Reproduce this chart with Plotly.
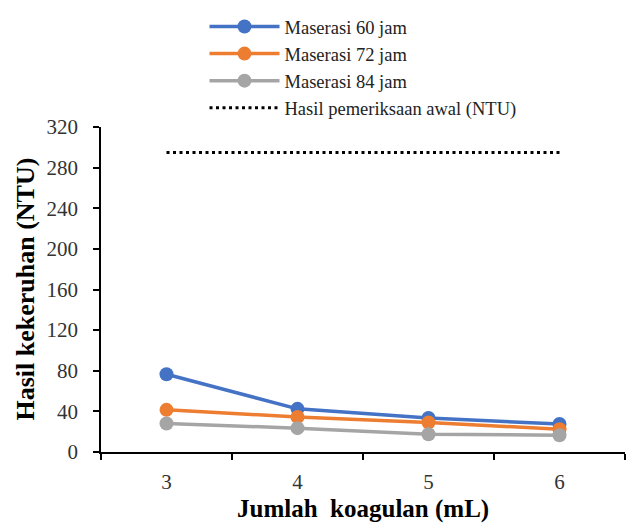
import plotly.graph_objects as go

categories = ["3", "4", "5", "6"]
maserasi_60 = [76.5, 42.5, 33.5, 27.5]
maserasi_72 = [41.5, 34.5, 29, 22.5]
maserasi_84 = [28, 23.5, 17.5, 16.5]
awal = [295, 295, 295, 295]
y_ticks = [0, 40, 80, 120, 160, 200, 240, 280, 320]

FONT = "'Liberation Serif', 'Times New Roman', serif"

fig = go.Figure()
series = [
    ("Maserasi 60 jam", maserasi_60, "#4472C4"),
    ("Maserasi 72 jam", maserasi_72, "#ED7D31"),
    ("Maserasi 84 jam", maserasi_84, "#A5A5A5"),
]
for name, vals, col in series:
    fig.add_trace(go.Scatter(
        x=categories, y=vals, name=name, mode="lines+markers",
        line=dict(color=col, width=3.5),
        marker=dict(color=col, size=14),
    ))
fig.add_trace(go.Scatter(
    x=categories, y=awal, name="Hasil pemeriksaan awal (NTU)", mode="lines",
    line=dict(color="black", width=3, dash="3px,3.5px"),
))

fig.update_layout(
    width=638, height=525,
    margin=dict(l=93, r=21, t=119, b=81, autoexpand=False),
    paper_bgcolor="white", plot_bgcolor="white",
    font=dict(family=FONT, size=19, color="#333333"),
    showlegend=True,
    legend=dict(
        xref="container", yref="container",
        x=0.308, y=1.02, xanchor="left", yanchor="top",
        font=dict(family=FONT, size=18.5, color="#222222"),
        itemwidth=70, tracegroupgap=0,
        bgcolor="rgba(0,0,0,0)",
    ),
    xaxis=dict(
        type="category", range=[-0.5, 3.5],
        showline=True, linecolor="black", linewidth=1.5,
        ticks="outside", tickson="boundaries", ticklen=6, tickcolor="black", tickwidth=1.5,
        showgrid=False, zeroline=False, ticklabelstandoff=10,
        tickfont=dict(family=FONT, size=21, color="#333333"),
    ),
    yaxis=dict(
        range=[0, 320], tickvals=y_ticks,
        showline=True, linecolor="black", linewidth=1.5,
        ticks="outside", ticklen=6, tickcolor="black", tickwidth=1.5,
        showgrid=False, zeroline=False, ticklabelstandoff=11,
        tickfont=dict(family=FONT, size=21, color="#333333"),
    ),
    annotations=[
        dict(text="<b>Jumlah\u00a0 koagulan (mL)</b>", xref="paper", yref="paper",
             x=0.5, y=-0.176, xanchor="center", yanchor="middle", showarrow=False,
             font=dict(family=FONT, size=25, color="black")),
        dict(text="<b>Hasil kekeruhan (NTU)</b>", xref="paper", yref="paper",
             x=-0.145, y=0.5, xanchor="center", yanchor="middle", showarrow=False,
             textangle=-90, font=dict(family=FONT, size=26, color="black")),
    ],
)

fig.write_html("out.html")
